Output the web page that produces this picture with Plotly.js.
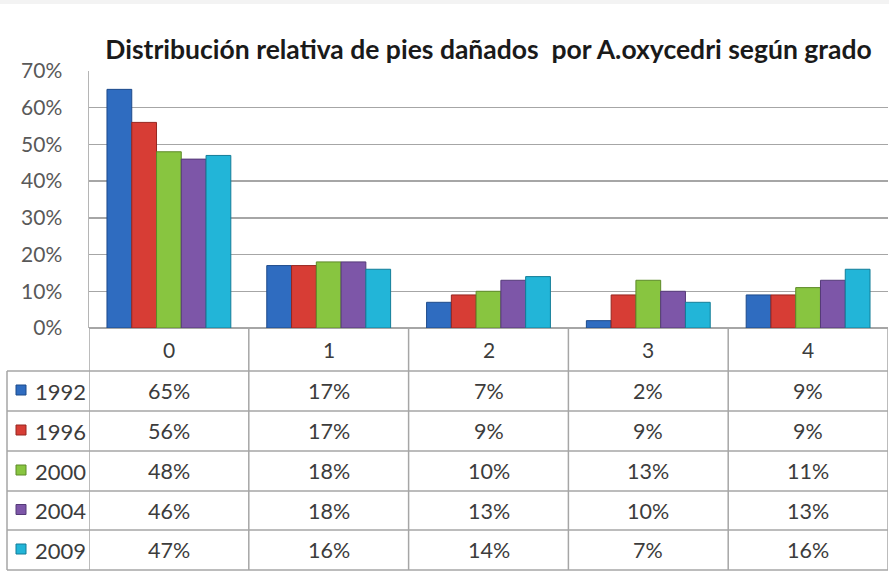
<!DOCTYPE html>
<html>
<head>
<meta charset="utf-8">
<script src="https://cdn.plot.ly/plotly-3.0.1.min.js"></script>
<style>html,body{margin:0;padding:0;background:#fff;}#chart{width:889px;height:573px;}</style>
</head>
<body>
<div id="chart"></div>
<script>
// ---- data ----
const categories = ['0', '1', '2', '3', '4'];
const years = ['1992', '1996', '2000', '2004', '2009'];
const v1992 = [65, 17, 7, 2, 9];
const v1996 = [56, 17, 9, 9, 9];
const v2000 = [48, 18, 10, 13, 11];
const v2004 = [46, 18, 13, 10, 13];
const v2009 = [47, 16, 14, 7, 16];
const yTicks = [0, 10, 20, 30, 40, 50, 60, 70];
const titleText = 'Distribución relativa de pies dañados  por A.oxycedri según grado';

const seriesValues = [v1992, v1996, v2000, v2004, v2009];
const colors = ['#2f6cc0', '#d73d35', '#88c540', '#7d56a8', '#22b5d8'];
const edges = ['#1d4a8a', '#962620', '#5d8a28', '#553a78', '#137d98'];

// ---- layout geometry (pixels) ----
const W = 889, H = 573;
const L = 89, R = 888, T = 71, B = 328;
const pw = R - L, ph = B - T;
const tableLeft = 7;
const rowLines = [371, 411, 451, 491, 530, 570];
const px = v => (v - L) / pw;
const py = v => (B - v) / ph;
const FONT = 'Lato, "Open Sans", sans-serif';
const TXT = '#3c3c3c';

const traces = seriesValues.map((vals, i) => ({
  type: 'bar',
  name: years[i],
  x: categories,
  y: vals.map(v => v / 100),
  marker: { color: colors[i], line: { color: edges[i], width: 1 } },
  hoverinfo: 'skip'
}));

const shapes = [];
const annotations = [];
const lineStyle = { color: '#a6a6a6', width: 1.5 };

// top grey band
shapes.push({ type: 'rect', xref: 'paper', yref: 'paper', x0: px(0), x1: px(W), y0: py(0), y1: py(4),
  fillcolor: '#f3f3f3', line: { width: 0 }, layer: 'below' });

// table horizontal lines
rowLines.forEach(yy => shapes.push({ type: 'line', xref: 'paper', yref: 'paper',
  x0: px(tableLeft), x1: px(R), y0: py(yy), y1: py(yy), line: lineStyle }));
// table left edge
shapes.push({ type: 'line', xref: 'paper', yref: 'paper', x0: px(tableLeft), x1: px(tableLeft),
  y0: py(rowLines[0]), y1: py(rowLines[rowLines.length - 1]), line: lineStyle });
// column separators at category boundaries (data coords)
for (let k = 0; k <= categories.length; k++) {
  shapes.push({ type: 'line', xref: 'x', yref: 'paper', x0: k - 0.5, x1: k - 0.5,
    y0: py(B), y1: py(rowLines[rowLines.length - 1]), line: lineStyle });
}

// header row: category labels
const headerMid = (B + rowLines[0]) / 2;
categories.forEach((c, k) => annotations.push({ xref: 'x', yref: 'paper', x: k, y: py(headerMid),
  text: c, showarrow: false, font: { family: FONT, size: 21, color: TXT }, xanchor: 'center', yanchor: 'middle' }));

// data rows
years.forEach((yr, i) => {
  const mid = (rowLines[i] + rowLines[i + 1]) / 2;
  shapes.push({ type: 'rect', xref: 'paper', yref: 'paper', x0: px(16), x1: px(26), y0: py(mid - 6), y1: py(mid + 4),
    fillcolor: colors[i], line: { color: edges[i], width: 1 } });
  annotations.push({ xref: 'paper', yref: 'paper', x: px(33), y: py(mid), text: yr, showarrow: false,
    font: { family: FONT, size: 22, color: TXT }, xanchor: 'left', yanchor: 'middle' });
  seriesValues[i].forEach((v, k) => annotations.push({ xref: 'x', yref: 'paper', x: k, y: py(mid),
    text: v + '%', showarrow: false, font: { family: FONT, size: 21.5, color: TXT }, xanchor: 'center', yanchor: 'middle' }));
});

const layout = {
  width: W, height: H,
  margin: { l: L, r: W - R, t: T, b: H - B, pad: 0 },
  paper_bgcolor: '#ffffff', plot_bgcolor: '#ffffff',
  showlegend: false,
  barmode: 'group', bargap: 0.225, bargroupgap: 0,
  title: { text: '<b>' + titleText + '</b>', x: 0.5, xref: 'paper', xanchor: 'center',
    y: 1 - 50 / H, yref: 'container', yanchor: 'middle',
    font: { family: FONT, size: 26.5, color: '#1a1a1a' } },
  xaxis: { type: 'category', range: [-0.5, categories.length - 0.5], showticklabels: false,
    showgrid: false, zeroline: false, showline: false, ticks: '', fixedrange: true },
  yaxis: { range: [0, 0.7], tickvals: yTicks.map(t => t / 100), ticktext: yTicks.map(t => t + '%'),
    showgrid: true, gridcolor: '#a6a6a6', gridwidth: 1.5, zeroline: true, zerolinecolor: '#a6a6a6', zerolinewidth: 1.5,
    showline: true, linecolor: '#b5b5b5', linewidth: 1.5, ticks: '', ticklabelstandoff: 21,
    tickfont: { family: FONT, size: 21, color: '#595959' }, fixedrange: true },
  shapes: shapes,
  annotations: annotations
};

Plotly.newPlot('chart', traces, layout, { displayModeBar: false, staticPlot: true });
</script>
</body>
</html>
